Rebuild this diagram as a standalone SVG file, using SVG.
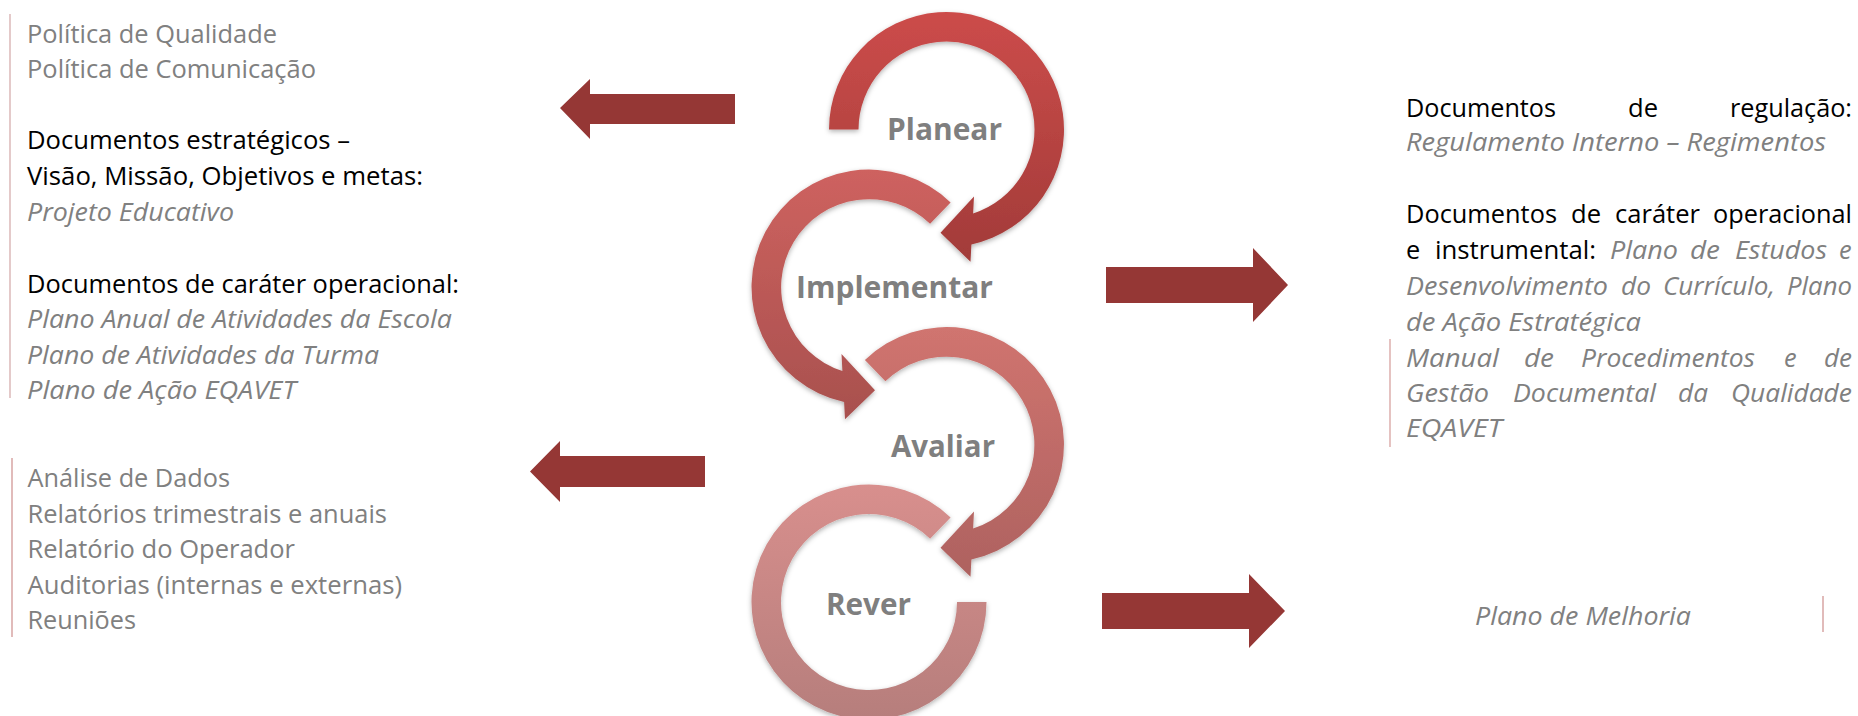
<svg xmlns="http://www.w3.org/2000/svg" width="1858" height="716" viewBox="0 0 1858 716">
<defs>
<style>
.t{font-family:"Open Sans","Liberation Sans",sans-serif;font-size:25.3px;}
.k{fill:#000000;}
.g{fill:#808080;}
.i{font-style:italic;fill:#808080;}
.lbl{font-family:"Open Sans","Liberation Sans",sans-serif;font-weight:700;font-size:31px;fill:#7F7F7F;}
.arr{fill:#953735;}
.bar{stroke:#D2A6A6;stroke-width:1.2;}
</style>
<linearGradient id="gP" x1="0" y1="0" x2="0" y2="1"><stop offset="0" stop-color="#CC4C4A"/><stop offset="1" stop-color="#A23B39"/></linearGradient>
<linearGradient id="gI" x1="0" y1="0" x2="0" y2="1"><stop offset="0" stop-color="#CE625F"/><stop offset="1" stop-color="#A8504E"/></linearGradient>
<linearGradient id="gA" x1="0" y1="0" x2="0" y2="1"><stop offset="0" stop-color="#D0746F"/><stop offset="1" stop-color="#AE6260"/></linearGradient>
<linearGradient id="gR" x1="0" y1="0" x2="0" y2="1"><stop offset="0" stop-color="#D88F8D"/><stop offset="1" stop-color="#B67E7C"/></linearGradient>
<filter id="sh" x="-20%" y="-20%" width="140%" height="140%"><feDropShadow dx="0" dy="2" stdDeviation="2.5" flood-color="#000" flood-opacity="0.3"/></filter>
</defs>
<rect width="1858" height="716" fill="#FFFFFF"/>

<g id="left-top-text">
<line class="bar" x1="10" y1="14" x2="10" y2="398"/>
<text class="t g" x="27" y="43" textLength="250" lengthAdjust="spacingAndGlyphs">Política de Qualidade</text>
<text class="t g" x="27" y="78" textLength="289" lengthAdjust="spacingAndGlyphs">Política de Comunicação</text>
<text class="t k" x="27" y="149" textLength="323" lengthAdjust="spacingAndGlyphs">Documentos estratégicos –</text>
<text class="t k" x="27" y="185" textLength="396" lengthAdjust="spacingAndGlyphs">Visão, Missão, Objetivos e metas:</text>
<text class="t i" x="27" y="221" textLength="207" lengthAdjust="spacingAndGlyphs">Projeto Educativo</text>
<text class="t k" x="27" y="293" textLength="432" lengthAdjust="spacingAndGlyphs">Documentos de caráter operacional:</text>
<text class="t i" x="27" y="328" textLength="425" lengthAdjust="spacingAndGlyphs">Plano Anual de Atividades da Escola</text>
<text class="t i" x="27" y="364" textLength="352" lengthAdjust="spacingAndGlyphs">Plano de Atividades da Turma</text>
<text class="t i" x="27" y="399" textLength="269" lengthAdjust="spacingAndGlyphs">Plano de Ação EQAVET</text>
</g>

<g id="left-bottom-text">
<line class="bar" x1="12" y1="458" x2="12" y2="637" style="stroke:#CD8E8C"/>
<text class="t g" x="27.5" y="487" textLength="202.5" lengthAdjust="spacingAndGlyphs">Análise de Dados</text>
<text class="t g" x="27.5" y="523" textLength="359.5" lengthAdjust="spacingAndGlyphs">Relatórios trimestrais e anuais</text>
<text class="t g" x="27.5" y="558" textLength="267.5" lengthAdjust="spacingAndGlyphs">Relatório do Operador</text>
<text class="t g" x="27.5" y="594" textLength="374.5" lengthAdjust="spacingAndGlyphs">Auditorias (internas e externas)</text>
<text class="t g" x="27.5" y="629" textLength="108.5" lengthAdjust="spacingAndGlyphs">Reuniões</text>
</g>

<g id="node-planear">
<path transform="translate(946.5,129.5)" fill="url(#gP)" filter="url(#sh)" d="M -117.5 0 A 117.5 117.5 0 1 1 24.9 114.9 L 24 132.2 L -6 103.3 L 27.5 67 L 26.6 84 A 88 88 0 1 0 -88 0 Z"/>
<text class="lbl" x="887" y="140" textLength="115" lengthAdjust="spacingAndGlyphs">Planear</text>
</g>

<g id="node-implementar">
<path transform="translate(869,287)" fill="url(#gI)" filter="url(#sh)" d="M 81.6 -84.5 A 117.5 117.5 0 1 0 -24.9 114.9 L -24 132.2 L 6 103.3 L -27.5 67 L -26.6 84 A 88 88 0 1 1 61.1 -63.3 Z"/>
<text class="lbl" x="796" y="298" textLength="197" lengthAdjust="spacingAndGlyphs">Implementar</text>
</g>

<g id="node-avaliar">
<path transform="translate(946.5,444.5)" fill="url(#gA)" filter="url(#sh)" d="M -81.6 -84.5 A 117.5 117.5 0 1 1 24.9 114.9 L 24 132.2 L -6 103.3 L 27.5 67 L 26.6 84 A 88 88 0 1 0 -61.1 -63.3 Z"/>
<text class="lbl" x="891" y="457" textLength="104" lengthAdjust="spacingAndGlyphs">Avaliar</text>
</g>

<g id="node-rever">
<path transform="translate(869,602)" fill="url(#gR)" filter="url(#sh)" d="M 81.6 -84.5 A 117.5 117.5 0 1 0 117.5 0 L 88 0 A 88 88 0 1 1 61.1 -63.3 Z"/>
<text class="lbl" x="826" y="615" textLength="85" lengthAdjust="spacingAndGlyphs">Rever</text>
</g>

<g id="connectors">
<polygon class="arr" points="560,108 590,79 590,94 735,94 735,124 590,124 590,139"/>
<polygon class="arr" points="530,471.5 560,441 560,456 705,456 705,487 560,487 560,502"/>
<polygon class="arr" points="1106,267 1253,267 1253,248 1288,285 1253,322 1253,303 1106,303"/>
<polygon class="arr" points="1102,593 1249,593 1249,574 1285,611 1249,648 1249,629 1102,629"/>
</g>

<g id="right-top-text">
<line class="bar" x1="1390" y1="339" x2="1390" y2="447" style="stroke:#D49A98"/>
<text class="t k" y="117"><tspan x="1406" textLength="150" lengthAdjust="spacingAndGlyphs">Documentos</tspan><tspan x="1628" textLength="30" lengthAdjust="spacingAndGlyphs">de</tspan><tspan x="1730" textLength="122" lengthAdjust="spacingAndGlyphs">regulação:</tspan></text>
<text class="t i" x="1406" y="151" textLength="420" lengthAdjust="spacingAndGlyphs">Regulamento Interno – Regimentos</text>
<text class="t k" y="223"><tspan x="1406" textLength="151" lengthAdjust="spacingAndGlyphs">Documentos</tspan><tspan x="1571" textLength="30" lengthAdjust="spacingAndGlyphs">de</tspan><tspan x="1615" textLength="85" lengthAdjust="spacingAndGlyphs">caráter</tspan><tspan x="1713" textLength="139" lengthAdjust="spacingAndGlyphs">operacional</tspan></text>
<text class="t k" y="259"><tspan x="1406">e</tspan><tspan x="1435" textLength="161" lengthAdjust="spacingAndGlyphs">instrumental:</tspan><tspan class="i" x="1610" textLength="68" lengthAdjust="spacingAndGlyphs">Plano</tspan><tspan class="i" x="1690" textLength="30" lengthAdjust="spacingAndGlyphs">de</tspan><tspan class="i" x="1735" textLength="92" lengthAdjust="spacingAndGlyphs">Estudos</tspan><tspan class="i" x="1839">e</tspan></text>
<text class="t i" y="295"><tspan x="1406" textLength="202" lengthAdjust="spacingAndGlyphs">Desenvolvimento</tspan><tspan x="1621" textLength="30" lengthAdjust="spacingAndGlyphs">do</tspan><tspan x="1663" textLength="112" lengthAdjust="spacingAndGlyphs">Currículo,</tspan><tspan x="1787" textLength="65" lengthAdjust="spacingAndGlyphs">Plano</tspan></text>
<text class="t i" x="1406" y="331" textLength="235" lengthAdjust="spacingAndGlyphs">de Ação Estratégica</text>
<text class="t i" y="367"><tspan x="1406" textLength="93" lengthAdjust="spacingAndGlyphs">Manual</tspan><tspan x="1524" textLength="30" lengthAdjust="spacingAndGlyphs">de</tspan><tspan x="1581" textLength="174" lengthAdjust="spacingAndGlyphs">Procedimentos</tspan><tspan x="1784">e</tspan><tspan x="1824" textLength="28" lengthAdjust="spacingAndGlyphs">de</tspan></text>
<text class="t i" y="402"><tspan x="1406" textLength="83" lengthAdjust="spacingAndGlyphs">Gestão</tspan><tspan x="1513" textLength="143" lengthAdjust="spacingAndGlyphs">Documental</tspan><tspan x="1678" textLength="30" lengthAdjust="spacingAndGlyphs">da</tspan><tspan x="1731" textLength="121" lengthAdjust="spacingAndGlyphs">Qualidade</tspan></text>
<text class="t i" x="1406" y="437" textLength="96" lengthAdjust="spacingAndGlyphs">EQAVET</text>
</g>

<g id="right-bottom-text">
<line class="bar" x1="1823" y1="596" x2="1823" y2="632" style="stroke:#CD8E8C"/>
<text class="t i" x="1475" y="625" textLength="216" lengthAdjust="spacingAndGlyphs">Plano de Melhoria</text>
</g>
</svg>
